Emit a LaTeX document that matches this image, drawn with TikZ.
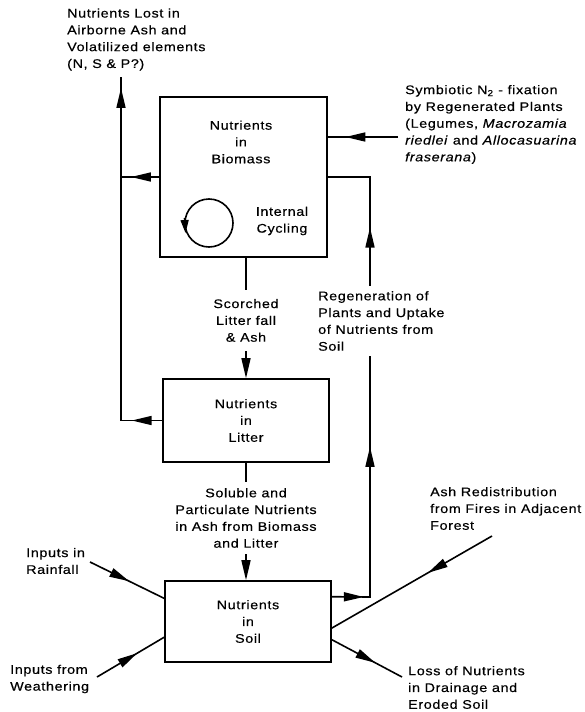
\documentclass[tikz,border=0pt]{standalone}
\usepackage{fontspec}
\setmainfont{Liberation Sans}[FakeStretch=1.15,LetterSpace=5,FakeBold=0.4]
\usetikzlibrary{arrows.meta,decorations.markings,calc}
\tikzset{
  headA/.tip={Triangle[length=20pt,width=9pt]},
  headB/.tip={Triangle[length=13pt,width=8pt]},
  conn/.style={line width=1.6pt},
  endarrow/.style={conn,-{headA}},
  midarrow/.style={postaction={decorate,decoration={markings,mark=at position #1 with {\arrow{headA}}}}},
  box/.style={draw,line width=1.6pt,align=center,inner sep=0pt},
  txt/.style={align=left,inner sep=0pt,anchor=west},
  ctxt/.style={align=center,inner sep=0pt},
}
\begin{document}
\begin{tikzpicture}[x=1pt,y=-1pt,font=\fontsize{12.5pt}{16.8pt}\selectfont]
\useasboundingbox (0,0) rectangle (584,712);

% boxes
\node[box,minimum width=167pt,minimum height=160pt] (biomass) at (243.5,177) {};
\node[ctxt] (biomassT) at (241,142) {Nutrients\\in\\Biomass};
\node[ctxt] (cycT) at (282,221) {Internal\\Cycling};
\node[box,minimum width=166pt,minimum height=83pt] (litter) at (246,420.5) {Nutrients\\in\\Litter};
\node[box,minimum width=166pt,minimum height=81pt] (soil) at (248,621.5) {Nutrients\\in\\Soil};

% internal cycling
\coordinate (cycC) at (209,223);
\draw[conn] (cycC) circle [radius=24pt];
\draw[conn,-{headB}] ($(cycC)+(-24.5,-5)$) -- ($(cycC)+(-23.5,10)$);

% losses to atmosphere
\node[txt] (lossAir) at (67,39.5) {Nutrients Lost in\\Airborne Ash and\\Volatilized elements\\(N, S \& P?)};
\coordinate (lossTop) at (121,77);
\draw[conn,midarrow=0.968] (lossTop |- litter.west) -- (lossTop);
\draw[conn,midarrow=0.74] (biomass.west) -- (lossTop |- biomass.west);
\draw[conn,midarrow=0.74] (litter.west) -- (lossTop |- litter.west);

% symbiotic fixation
\node[txt] (symT) at (405,124.5) {Symbiotic N\textsubscript{2} - fixation\\by Regenerated Plants\\(Legumes, \textit{Macrozamia}\\\textit{riedlei} and \textit{Allocasuarina}\\\textit{fraserana})};
\coordinate (symS) at (398,137);
\draw[conn,midarrow=0.75] (symS) -- (symS -| biomass.east);

% scorched litter fall
\draw[endarrow] (biomass.south -| litter.north) -- node[ctxt,fill=white,inner ysep=9pt,inner xsep=2pt,pos=0.52] (scorch) {Scorched\\Litter fall\\\& Ash} (litter.north);

% soluble nutrients
\draw[endarrow] (litter.south) -- node[ctxt,fill=white,inner ysep=6pt,inner xsep=2pt,pos=0.47] (soluble) {Soluble and\\Particulate Nutrients\\in Ash from Biomass\\and Litter} (litter.south |- soil.north);

% regeneration / uptake
\coordinate (rBot) at (370,597);
\coordinate (rTop) at (370,177);
\draw[conn,midarrow=0.064,midarrow=0.3765,midarrow=0.8147] ($(soil.north east)!0.2!(soil.south east)$) -- (rBot) -- (rTop) -- (biomass.east);
\node[txt,fill=white,inner sep=5pt] (regen) at (313,321) {Regeneration of\\Plants and Uptake\\of Nutrients from\\Soil};

% ash redistribution
\node[txt] (ashT) at (430,508.5) {Ash Redistribution\\from Fires in Adjacent\\Forest};
\coordinate (ashS) at (492,536);
\draw[conn,midarrow=0.40] (ashS) -- ($(soil.north east)!0.58!(soil.south east)$);

% drainage loss
\coordinate (drE) at (402,677);
\draw[conn,midarrow=0.62] ($(soil.north east)!0.72!(soil.south east)$) -- (drE);
\node[txt] (drT) at (408,687.5) {Loss of Nutrients\\in Drainage and\\Eroded Soil};

% rainfall
\node[txt] (rainT) at (26,561) {Inputs in\\Rainfall};
\coordinate (rainS) at (90,562);
\draw[conn,midarrow=0.53] (rainS) -- ($(soil.north west)!0.22!(soil.south west)$);

% weathering
\node[txt] (weaT) at (10,679) {Inputs from\\Weathering};
\coordinate (weaS) at (97,677);
\draw[conn,midarrow=0.6] (weaS) -- ($(soil.north west)!0.69!(soil.south west)$);
\end{tikzpicture}
\end{document}
